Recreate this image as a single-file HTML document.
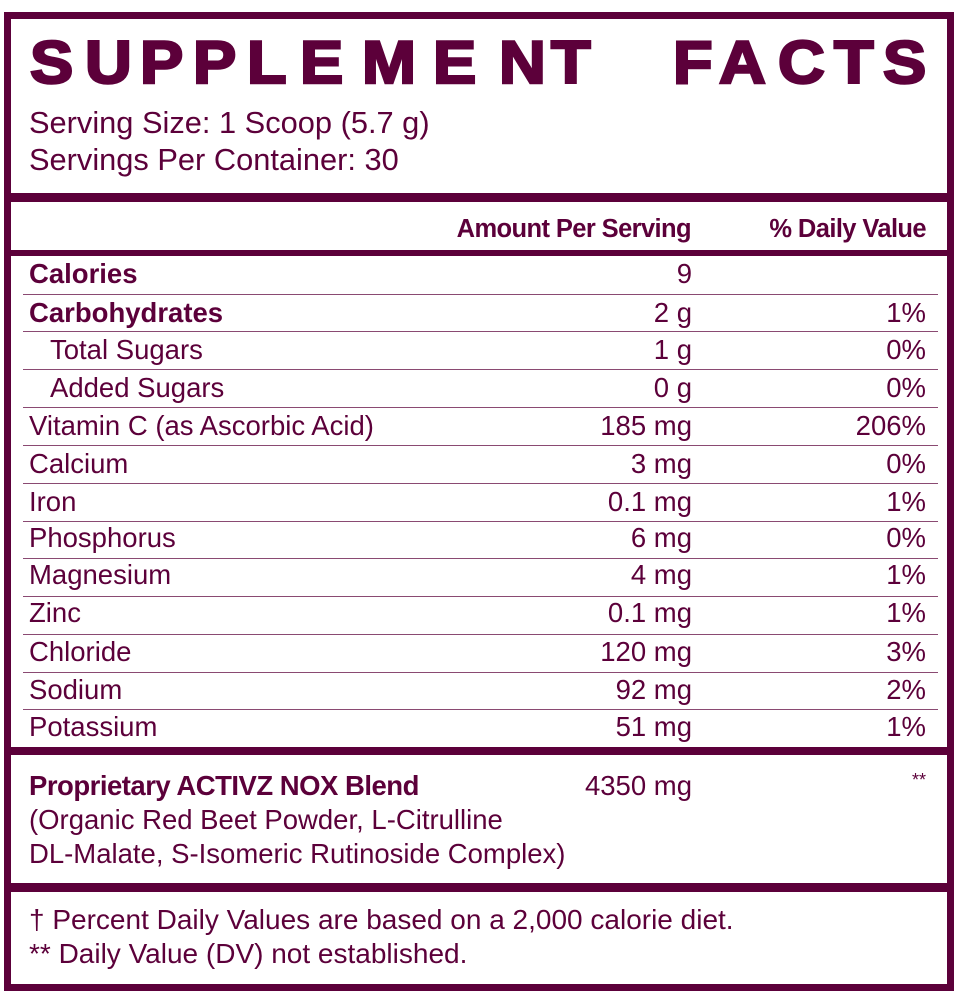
<!DOCTYPE html>
<html><head><meta charset="utf-8"><style>
body{margin:0;width:962px;height:1000px;background:#fff;position:relative;overflow:hidden;font-family:"Liberation Sans",sans-serif;color:#5c003a}
.b{position:absolute;background:#5c003a}
.t{position:absolute;white-space:nowrap;line-height:30px}
.L{position:absolute;font-weight:bold;font-size:60px;line-height:60px;top:33px;-webkit-text-stroke:2.5px #5c003a;transform:scaleX(1.08);transform-origin:left}
.r{text-align:right}
.h{font-size:27.5px}
.s{position:absolute;left:23px;width:915px;height:1px;background:#8a4a72}
</style></head><body>
<div class="b" style="left:4px;top:12px;width:950px;height:7px"></div>
<div class="b" style="left:4px;top:12px;width:7px;height:979px"></div>
<div class="b" style="left:947px;top:12px;width:7px;height:979px"></div>
<div class="b" style="left:4px;top:984px;width:950px;height:7px"></div>
<div class="b" style="left:4px;top:193px;width:950px;height:9px"></div>
<div class="b" style="left:4px;top:250px;width:950px;height:6px"></div>
<div class="b" style="left:4px;top:747px;width:950px;height:8px"></div>
<div class="b" style="left:4px;top:883px;width:950px;height:9px"></div>

<span class="L" style="left:30px">S</span><span class="L" style="left:85px">U</span><span class="L" style="left:140px">P</span><span class="L" style="left:193px">P</span><span class="L" style="left:247px">L</span><span class="L" style="left:300px">E</span><span class="L" style="left:362px">M</span><span class="L" style="left:433px">E</span><span class="L" style="left:499px">N</span><span class="L" style="left:551px">T</span>
<span class="L" style="left:673px">F</span><span class="L" style="left:719px">A</span><span class="L" style="left:778px">C</span><span class="L" style="left:834px">T</span><span class="L" style="left:883px">S</span>

<div class="t" style="left:29px;top:108px;font-size:30.8px">Serving Size: 1 Scoop (5.7 g)</div>
<div class="t" style="left:29px;top:145px;font-size:30.8px">Servings Per Container: 30</div>

<div class="t r" style="right:271px;top:214px;font-size:25.5px;font-weight:bold;letter-spacing:-0.6px">Amount Per Serving</div>
<div class="t r" style="right:36px;top:214px;font-size:25.5px;font-weight:bold;letter-spacing:-0.6px">% Daily Value</div>

<div class="t h" style="left:29px;top:259px;font-weight:bold">Calories</div><div class="t h r" style="right:270px;top:259px">9</div>
<div class="s" style="top:294px"></div>
<div class="t h" style="left:29px;top:298px;font-weight:bold">Carbohydrates</div><div class="t h r" style="right:270px;top:298px">2 g</div><div class="t h r" style="right:36px;top:298px">1%</div>
<div class="s" style="top:331px"></div>
<div class="t h" style="left:50px;top:335px">Total Sugars</div><div class="t h r" style="right:270px;top:335px">1 g</div><div class="t h r" style="right:36px;top:335px">0%</div>
<div class="s" style="top:369px"></div>
<div class="t h" style="left:50px;top:373px">Added Sugars</div><div class="t h r" style="right:270px;top:373px">0 g</div><div class="t h r" style="right:36px;top:373px">0%</div>
<div class="s" style="top:407px"></div>
<div class="t h" style="left:29px;top:411px">Vitamin C (as Ascorbic Acid)</div><div class="t h r" style="right:270px;top:411px">185 mg</div><div class="t h r" style="right:36px;top:411px">206%</div>
<div class="s" style="top:445px"></div>
<div class="t h" style="left:29px;top:449px">Calcium</div><div class="t h r" style="right:270px;top:449px">3 mg</div><div class="t h r" style="right:36px;top:449px">0%</div>
<div class="s" style="top:483px"></div>
<div class="t h" style="left:29px;top:487px">Iron</div><div class="t h r" style="right:270px;top:487px">0.1 mg</div><div class="t h r" style="right:36px;top:487px">1%</div>
<div class="s" style="top:521px"></div>
<div class="t h" style="left:29px;top:523px">Phosphorus</div><div class="t h r" style="right:270px;top:523px">6 mg</div><div class="t h r" style="right:36px;top:523px">0%</div>
<div class="s" style="top:558px"></div>
<div class="t h" style="left:29px;top:560px">Magnesium</div><div class="t h r" style="right:270px;top:560px">4 mg</div><div class="t h r" style="right:36px;top:560px">1%</div>
<div class="s" style="top:596px"></div>
<div class="t h" style="left:29px;top:598px">Zinc</div><div class="t h r" style="right:270px;top:598px">0.1 mg</div><div class="t h r" style="right:36px;top:598px">1%</div>
<div class="s" style="top:634px"></div>
<div class="t h" style="left:29px;top:637px">Chloride</div><div class="t h r" style="right:270px;top:637px">120 mg</div><div class="t h r" style="right:36px;top:637px">3%</div>
<div class="s" style="top:672px"></div>
<div class="t h" style="left:29px;top:675px">Sodium</div><div class="t h r" style="right:270px;top:675px">92 mg</div><div class="t h r" style="right:36px;top:675px">2%</div>
<div class="s" style="top:709px"></div>
<div class="t h" style="left:29px;top:712px">Potassium</div><div class="t h r" style="right:270px;top:712px">51 mg</div><div class="t h r" style="right:36px;top:712px">1%</div>

<div class="t h" style="left:29px;top:771px;font-weight:bold;letter-spacing:-0.5px">Proprietary ACTIVZ NOX Blend</div><div class="t h r" style="right:270px;top:771px">4350 mg</div><div class="t r" style="right:36px;top:765px;font-size:18px">**</div>
<div class="t h" style="left:29px;top:805px">(Organic Red Beet Powder, L-Citrulline</div>
<div class="t h" style="left:29px;top:839px">DL-Malate, S-Isomeric Rutinoside Complex)</div>

<div class="t" style="left:29px;top:905px;font-size:28px">† Percent Daily Values are based on a 2,000 calorie diet.</div>
<div class="t" style="left:29px;top:939px;font-size:28px">** Daily Value (DV) not established.</div>
</body></html>
